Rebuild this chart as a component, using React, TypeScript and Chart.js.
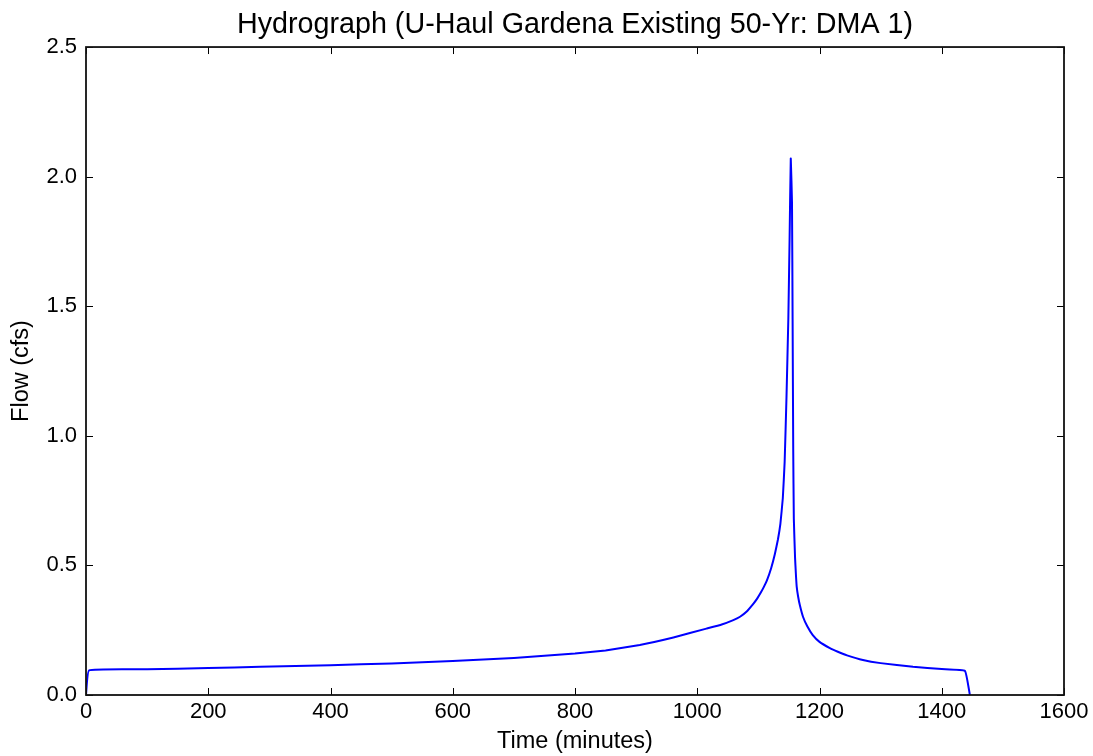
import { useEffect, useRef } from 'react';
import { Chart, registerables } from 'chart.js';

Chart.register(...registerables);

const chartTitle = 'Hydrograph (U-Haul Gardena Existing 50-Yr: DMA 1)';
const xAxisLabel = 'Time (minutes)';
const yAxisLabel = 'Flow (cfs)';

const timeMinutes = [
  0, 5, 100, 200, 285, 400, 500, 600, 700, 800, 850, 906, 961, 1015, 1040, 1059,
  1070, 1080, 1092, 1098, 1104, 1109, 1114, 1121, 1127, 1132, 1136, 1140, 1143,
  1146, 1149, 1151, 1153, 1155, 1156, 1157, 1158, 1160, 1161.3, 1162.7, 1165,
  1168, 1173, 1180, 1189, 1200, 1217, 1230, 1245, 1271, 1300, 1353, 1400,
  1438, 1446,
];
const flowCfs = [
  0, 0.095, 0.099, 0.104, 0.109, 0.115, 0.122, 0.131, 0.143, 0.16, 0.172, 0.193,
  0.222, 0.256, 0.272, 0.289, 0.302, 0.32, 0.353, 0.372, 0.395, 0.417, 0.442,
  0.49, 0.544, 0.6, 0.66, 0.76, 0.9, 1.15, 1.45, 1.75, 2.07, 1.9, 1.45, 0.95,
  0.68, 0.53, 0.47, 0.418, 0.38, 0.345, 0.302, 0.265, 0.231, 0.205, 0.181,
  0.167, 0.153, 0.135, 0.123, 0.109, 0.1, 0.093, 0,
];
const xTicks = [0, 200, 400, 600, 800, 1000, 1200, 1400, 1600];
const yTicks = [0, 0.5, 1.0, 1.5, 2.0, 2.5];

const FONT = "'Liberation Sans', Arial, sans-serif";

const framePlugin = {
  id: 'mplFrame',
  afterLayout(chart: any) {
    const tb = chart.titleBlock;
    if (tb) {
      tb.left = chart.chartArea.left;
      tb.right = chart.chartArea.right;
    }
  },
  afterDraw(chart: any) {
    const { ctx, chartArea, scales } = chart;
    const { left, right, top, bottom } = chartArea;
    const tl = 7;
    ctx.save();
    ctx.strokeStyle = '#000';
    ctx.lineWidth = 1;
    ctx.beginPath();
    for (const v of xTicks) {
      const px = Math.round(scales.x.getPixelForValue(v)) + 0.5;
      ctx.moveTo(px, bottom);
      ctx.lineTo(px, bottom - tl);
      ctx.moveTo(px, top);
      ctx.lineTo(px, top + tl);
    }
    for (const v of yTicks) {
      const py = Math.round(scales.y.getPixelForValue(v)) + 0.5;
      ctx.moveTo(left, py);
      ctx.lineTo(left + tl, py);
      ctx.moveTo(right, py);
      ctx.lineTo(right - tl, py);
    }
    ctx.stroke();
    ctx.lineWidth = 1.8;
    ctx.strokeStyle = '#111';
    ctx.strokeRect(left, top, right - left, bottom - top);
    ctx.restore();
  },
};

export default function App() {
  const canvasRef = useRef<HTMLCanvasElement | null>(null);

  useEffect(() => {
    if (!canvasRef.current) return;
    const points = timeMinutes.map((t, i) => ({ x: t, y: flowCfs[i] }));
    const chart = new Chart(canvasRef.current, {
      type: 'line',
      data: {
        datasets: [
          {
            label: 'Flow',
            data: points,
            borderColor: '#0000ff',
            borderWidth: 2,
            pointRadius: 0,
            tension: 0.1,
            fill: false,
          },
        ],
      },
      options: {
        animation: false,
        responsive: true,
        maintainAspectRatio: false,
        layout: { padding: { left: 0, right: 29, top: 0, bottom: 0 } },
        plugins: {
          legend: { display: false },
          tooltip: { enabled: false },
          title: {
            display: true,
            text: chartTitle,
            color: '#000',
            font: { family: FONT, size: 28.7, weight: 'normal' },
            padding: { top: 8, bottom: 4.6 },
          },
        },
        scales: {
          x: {
            type: 'linear',
            min: 0,
            max: 1600,
            afterBuildTicks: (scale: any) => {
              scale.ticks = xTicks.map((v) => ({ value: v }));
            },
            afterFit: (scale: any) => {
              scale.height = 61;
            },
            grid: { display: false, drawTicks: false },
            border: { display: false },
            ticks: {
              color: '#000',
              font: { family: FONT, size: 22 },
              padding: 4,
              maxRotation: 0,
              autoSkip: false,
              callback: (v: any) => String(v),
            },
            title: {
              display: true,
              text: xAxisLabel,
              color: '#000',
              font: { family: FONT, size: 23.5 },
              padding: { top: 0, bottom: 0 },
            },
          },
          y: {
            type: 'linear',
            min: 0,
            max: 2.5,
            afterBuildTicks: (scale: any) => {
              scale.ticks = yTicks.map((v) => ({ value: v }));
            },
            afterFit: (scale: any) => {
              scale.width = 86;
            },
            grid: { display: false, drawTicks: false },
            border: { display: false },
            ticks: {
              color: '#000',
              font: { family: FONT, size: 22 },
              padding: 9,
              autoSkip: false,
              callback: (v: any) => Number(v).toFixed(1),
            },
            title: {
              display: true,
              text: yAxisLabel,
              color: '#000',
              font: { family: FONT, size: 23.5 },
              padding: { top: 7.5, bottom: 0 },
            },
          },
        },
      },
      plugins: [framePlugin],
    });
    return () => chart.destroy();
  }, []);

  return (
    <div style={{ position: 'fixed', left: 0, top: 0, width: 1093, height: 756, background: '#fff' }}>
      <canvas ref={canvasRef} />
    </div>
  );
}
